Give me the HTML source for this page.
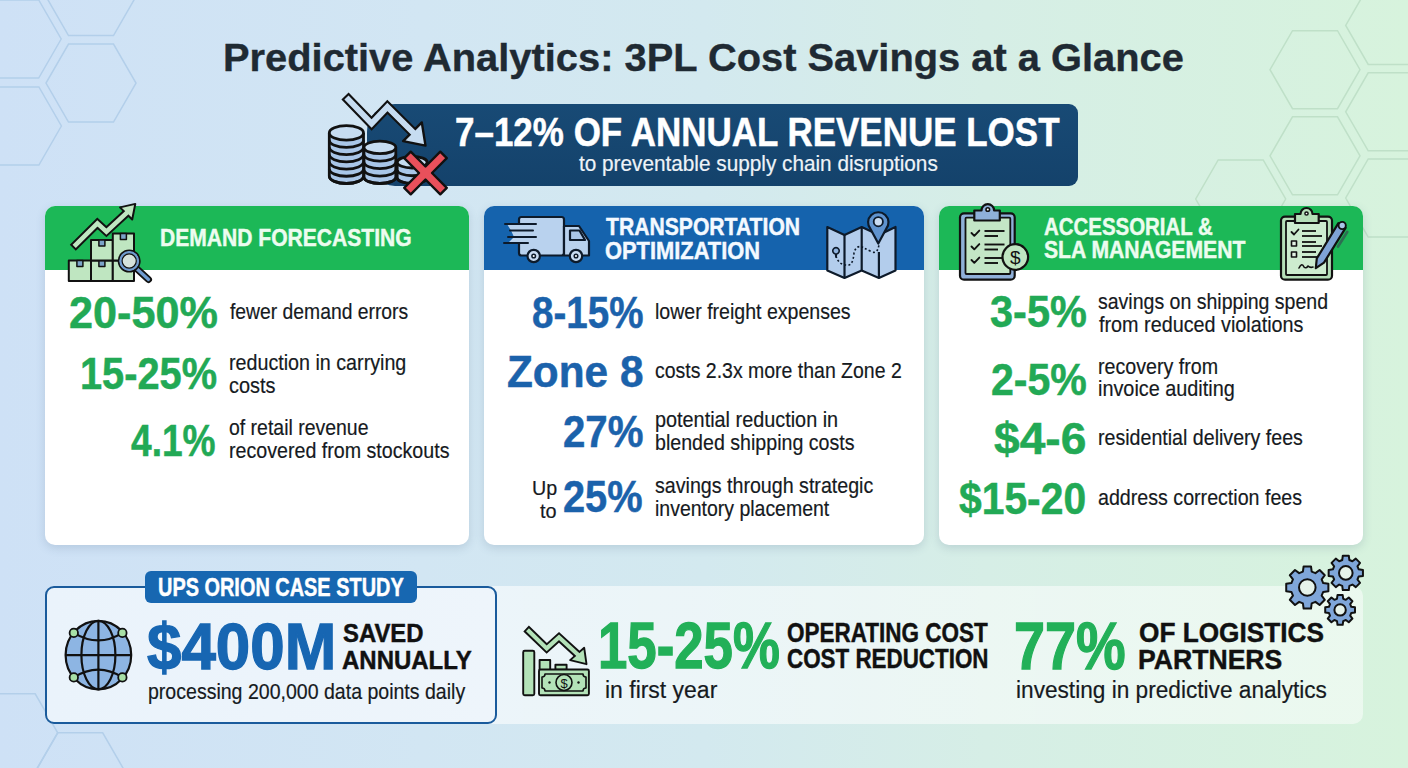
<!DOCTYPE html><html><head><meta charset="utf-8"><title>Predictive Analytics</title><style>

*{margin:0;padding:0;box-sizing:border-box}
html,body{width:1408px;height:768px;overflow:hidden}
body{position:relative;font-family:"Liberation Sans",sans-serif;
 background:linear-gradient(90deg,#cee1f6 0%,#d2e6f3 30%,#d3e9ef 50%,#d6eee6 70%,#d7f3dd 100%);}
.abs{position:absolute;left:0;top:0}
.t{position:absolute;white-space:nowrap;line-height:1;transform-origin:0 0;z-index:10}
.card{position:absolute;top:206px;height:338.5px;background:#fff;border-radius:10px;box-shadow:0 3px 10px rgba(60,90,120,.18);overflow:hidden}
.card .hd{position:absolute;left:0;top:0;right:0;height:64px}
.banner{position:absolute;left:367px;top:103.5px;width:711px;height:82.5px;background:linear-gradient(180deg,#184a75,#14426b);border-radius:28px 9px 9px 28px}
.panel{position:absolute;left:45px;top:586px;width:1318px;height:138px;border-radius:10px;background:linear-gradient(90deg,rgba(255,255,255,.62),rgba(255,255,255,.55) 60%,rgba(255,255,255,.5))}
.ups{position:absolute;left:44.5px;top:585.5px;width:452.5px;height:138.5px;border:2.6px solid #1a5b9c;border-radius:9px;background:linear-gradient(90deg,#eaf3fb,#eef5fb)}
.tab{position:absolute;left:144.5px;top:570.7px;width:272.8px;height:32.5px;background:#1767b1;border-radius:6px}

</style></head><body>
<svg class="abs" width="1408" height="768" viewBox="0 0 1408 768"><g fill="none" stroke="#b3cfea" stroke-width="1.5"><polygon points="61.2,39.0 38.7,78.0 -6.3,78.0 -28.8,39.0 -6.3,0.0 38.7,0.0"/><polygon points="61.4,126.0 38.9,165.0 -6.1,165.0 -28.6,126.0 -6.1,87.0 38.9,87.0"/><polygon points="136.0,-3.5 113.5,35.5 68.5,35.5 46.0,-3.5 68.5,-42.5 113.5,-42.5"/><polygon points="136.0,83.1 113.5,122.1 68.5,122.1 46.0,83.1 68.5,44.1 113.5,44.1"/><polygon points="57.7,732.8 35.2,771.8 -9.8,771.8 -32.3,732.8 -9.8,693.8 35.2,693.8"/><polygon points="125.2,771.8 102.7,810.8 57.7,810.8 35.2,771.8 57.7,732.8 102.7,732.8"/></g><g fill="none" stroke="#bfe0c8" stroke-width="1.5"><polygon points="1360.0,69.7 1337.5,108.7 1292.5,108.7 1270.0,69.7 1292.5,30.7 1337.5,30.7"/><polygon points="1360.0,155.8 1337.5,194.8 1292.5,194.8 1270.0,155.8 1292.5,116.8 1337.5,116.8"/><polygon points="1435.7,25.4 1413.2,64.4 1368.2,64.4 1345.7,25.4 1368.2,-13.6 1413.2,-13.6"/><polygon points="1435.7,111.8 1413.2,150.8 1368.2,150.8 1345.7,111.8 1368.2,72.8 1413.2,72.8"/><polygon points="1435.7,198.0 1413.2,237.0 1368.2,237.0 1345.7,198.0 1368.2,159.0 1413.2,159.0"/><polygon points="1285.7,199.0 1263.2,238.0 1218.2,238.0 1195.7,199.0 1218.2,160.0 1263.2,160.0"/></g></svg>
<div class="banner"></div>
<svg class="abs" width="1408" height="768" viewBox="0 0 1408 768"><defs><linearGradient id="lb" x1="0" y1="0" x2="1" y2="1"><stop offset="0" stop-color="#c9dcf2"/><stop offset="1" stop-color="#9dbde3"/></linearGradient><linearGradient id="lg" x1="0" y1="0" x2="1" y2="1"><stop offset="0" stop-color="#cdeccf"/><stop offset="1" stop-color="#a9dcb0"/></linearGradient></defs><g stroke="#111" stroke-width="2.8" stroke-linejoin="round"><path d="M397.2,162.2 L397.2,177.7 A15,5.8 0 0 0 427.2,177.7 L427.2,162.2" fill="#a9c6e8"/><path d="M397.2,169.95 A15,5.8 0 0 0 427.2,169.95" fill="none"/><path d="M397.2,177.7 A15,5.8 0 0 0 427.2,177.7" fill="none"/><ellipse cx="412.2" cy="162.2" rx="15" ry="5.8" fill="#c6dcf1"/><path d="M364.0,147.4 L364.0,177.2 A15.9,6.3 0 0 0 395.79999999999995,177.2 L395.79999999999995,147.4" fill="#a9c6e8"/><path d="M364.0,154.85 A15.9,6.3 0 0 0 395.79999999999995,154.85" fill="none"/><path d="M364.0,162.3 A15.9,6.3 0 0 0 395.79999999999995,162.3" fill="none"/><path d="M364.0,169.75 A15.9,6.3 0 0 0 395.79999999999995,169.75" fill="none"/><path d="M364.0,177.2 A15.9,6.3 0 0 0 395.79999999999995,177.2" fill="none"/><ellipse cx="379.9" cy="147.4" rx="15.9" ry="6.3" fill="#c6dcf1"/><path d="M329.29999999999995,132.9 L329.29999999999995,176.3 A17.1,7.2 0 0 0 363.5,176.3 L363.5,132.9" fill="#a9c6e8"/><path d="M329.29999999999995,140.13333333333333 A17.1,7.2 0 0 0 363.5,140.13333333333333" fill="none"/><path d="M329.29999999999995,147.36666666666667 A17.1,7.2 0 0 0 363.5,147.36666666666667" fill="none"/><path d="M329.29999999999995,154.60000000000002 A17.1,7.2 0 0 0 363.5,154.60000000000002" fill="none"/><path d="M329.29999999999995,161.83333333333334 A17.1,7.2 0 0 0 363.5,161.83333333333334" fill="none"/><path d="M329.29999999999995,169.06666666666666 A17.1,7.2 0 0 0 363.5,169.06666666666666" fill="none"/><path d="M329.29999999999995,176.3 A17.1,7.2 0 0 0 363.5,176.3" fill="none"/><ellipse cx="346.4" cy="132.9" rx="17.1" ry="7.2" fill="#c6dcf1"/></g><path d="M345.00,96.00 L371.60,123.50 L387.40,107.00 L412.40,131.80" fill="none" stroke="#111" stroke-width="10" stroke-linejoin="miter" stroke-miterlimit="10"/><path d="M425.5,145.6 L403.1,141.1 L421.8,122.4 Z" fill="#c6dcf1" stroke="#111" stroke-width="2.4" stroke-linejoin="round"/><path d="M346.46,97.51 L371.60,123.50 L387.40,107.00 L414.53,133.91" fill="none" stroke="#c6dcf1" stroke-width="5.8" stroke-linejoin="miter" stroke-miterlimit="10"/><g transform="translate(425.5,173) rotate(45)"><path d="M-4.6,-25.5 H4.6 V-4.6 H25.5 V4.6 H4.6 V25.5 H-4.6 V4.6 H-25.5 V-4.6 H-4.6 Z" fill="#e9505b" stroke="#111" stroke-width="2.4" stroke-linejoin="round"/></g></svg>
<div class="card" style="left:45px;width:424px"><div class="hd" style="background:#1cb857"></div></div>
<div class="card" style="left:484px;width:440px"><div class="hd" style="background:#1563ad"></div></div>
<div class="card" style="left:939px;width:424px"><div class="hd" style="background:#1cb857"></div></div>
<div class="panel"></div>
<div class="ups"></div>
<div class="tab"></div>
<svg class="abs" width="1408" height="768" viewBox="0 0 1408 768" style="z-index:5"><g stroke="#111" stroke-width="2" stroke-linejoin="round"><path d="M72.80,247.70 L97.40,223.40 L106.40,231.60 L126.10,213.40" fill="none" stroke="#111" stroke-width="8.5" stroke-linejoin="miter" stroke-miterlimit="10"/><path d="M135.3,203.9 L120,207.4 L132.2,219.5 Z" fill="#bfe6c1" stroke="#111" stroke-width="2" stroke-linejoin="round"/><path d="M74.19,246.33 L97.40,223.40 L106.40,231.60 L128.30,211.36" fill="none" stroke="#bfe6c1" stroke-width="4.6" stroke-linejoin="miter" stroke-miterlimit="10"/><rect x="68.8" y="260.4" width="22.2" height="20.5" fill="#bfe6c1"/><rect x="76.89999999999999" y="260.4" width="6" height="6" fill="#7ba3c9" stroke-width="1.5"/><rect x="91" y="260.4" width="21.8" height="20.5" fill="#bfe6c1"/><rect x="98.9" y="260.4" width="6" height="6" fill="#7ba3c9" stroke-width="1.5"/><rect x="112.8" y="260.4" width="21.2" height="20.5" fill="#bfe6c1"/><rect x="120.39999999999999" y="260.4" width="6" height="6" fill="#7ba3c9" stroke-width="1.5"/><rect x="91" y="239.9" width="21.8" height="20.5" fill="#bfe6c1"/><rect x="98.9" y="239.9" width="6" height="6" fill="#7ba3c9" stroke-width="1.5"/><rect x="112.8" y="233.4" width="21.2" height="27" fill="#bfe6c1"/><rect x="120.39999999999999" y="233.4" width="6" height="6" fill="#7ba3c9" stroke-width="1.5"/><line x1="136.5" y1="268.5" x2="148.5" y2="279.5" stroke="#111" stroke-width="7" stroke-linecap="round"/><line x1="136.5" y1="268.5" x2="148.5" y2="279.5" stroke="#6f9bd0" stroke-width="3.2" stroke-linecap="round"/><circle cx="129.2" cy="261" r="10.5" fill="#d5e2dc" stroke="#111" stroke-width="2"/><circle cx="129.2" cy="261" r="8.6" fill="none" stroke="#6f9bd0" stroke-width="2.6"/><circle cx="129.2" cy="261" r="7.1" fill="none" stroke="#111" stroke-width="1.2"/></g><g stroke="#0d1a2a" stroke-width="2.2" stroke-linejoin="round" fill="#b9d2ee"><rect x="519" y="217" width="45" height="38.5" rx="2.5"/><path d="M564,226 L579,226 L589,241 L589,255.5 L564,255.5 Z"/><path d="M570,230.5 L579.5,230.5 L585,240 L570,240 Z" fill="#a9c6e8"/><circle cx="533.7" cy="256" r="6.2" fill="#c9dcf2"/><circle cx="533.7" cy="256" r="1.8" fill="#fff" stroke-width="1.5"/><circle cx="576" cy="256" r="6.2" fill="#c9dcf2"/><circle cx="576" cy="256" r="1.8" fill="#fff" stroke-width="1.5"/></g><path d="M507,224 L522,224 L522,243 L508,243 L514,237 L511,230.5 Z" fill="#b9d2ee"/><g stroke="#0d1a2a" stroke-width="2" stroke-linecap="round"><line x1="505" y1="224" x2="536" y2="224"/><line x1="510" y1="230.5" x2="533" y2="230.5"/><line x1="508" y1="237" x2="536" y2="237"/><line x1="504" y1="243" x2="528" y2="243"/></g><g stroke="#0d1a2a" stroke-width="2.2" stroke-linejoin="round"><path d="M827.3,227 L844.5,235 L861.7,227 L878.9,235 L895.5,227 L895.5,270.6 L878.9,278 L861.7,270.6 L844.5,278 L827.3,270.6 Z" fill="#b3cdec"/><line x1="844.5" y1="235" x2="844.5" y2="278"/><line x1="861.7" y1="227" x2="861.7" y2="270.6"/><line x1="878.9" y1="252" x2="878.9" y2="278"/><path d="M836,256 Q839,266 849,265 Q853,264 854,253 Q856,245 862,247 Q866,249 872,252 Q878,254 879,244" fill="none" stroke-width="1.6" stroke-dasharray="2 2.2"/><path d="M835.5,254 a3.2,3.2 0 1 1 1,0 l-0.5,3 z" fill="#8fb3de" stroke-width="1.6"/><path d="M878.3,243.5 L870.5,229 A10.2,10.2 0 1 1 886.1,229 Z" fill="#5f93cf"/><circle cx="878.3" cy="221.7" r="4.6" fill="#c9dcf2" stroke-width="1.8"/></g><g stroke="#111" stroke-width="2.2" stroke-linejoin="round"><rect x="960" y="213.3" width="54.7" height="66.4" rx="4" fill="#8fb0d9"/><rect x="965.5" y="217.7" width="44.8" height="56.3" rx="1" fill="#c3e6c6" stroke-width="1.8"/><path d="M981.5,210.5 a6.3,6.3 0 0 1 12.6,0 L999.8,210.5 L999.8,220.5 L974.3,220.5 L974.3,210.5 Z" fill="#8fb0d9"/><circle cx="987.8" cy="209.5" r="1.8" fill="#fff" stroke-width="1.6"/><path d="M971.5,233 l2.8,2.8 l5,-5.2" fill="none" stroke-width="1.9" stroke-linecap="round"/><line x1="984.5" y1="231" x2="1004.5" y2="231" stroke-width="1.9"/><line x1="984.5" y1="236" x2="998" y2="236" stroke-width="1.9"/><path d="M971.5,246.5 l2.8,2.8 l5,-5.2" fill="none" stroke-width="1.9" stroke-linecap="round"/><line x1="984.5" y1="244.5" x2="1004.5" y2="244.5" stroke-width="1.9"/><line x1="984.5" y1="249.5" x2="998" y2="249.5" stroke-width="1.9"/><path d="M971.5,260 l2.8,2.8 l5,-5.2" fill="none" stroke-width="1.9" stroke-linecap="round"/><line x1="984.5" y1="258" x2="1004.5" y2="258" stroke-width="1.9"/><line x1="984.5" y1="263" x2="998" y2="263" stroke-width="1.9"/><circle cx="1015.3" cy="257" r="12.8" fill="#bfe5c2"/></g><text x="1015.3" y="264" text-anchor="middle" font-family="Liberation Sans" font-size="19" fill="#111">$</text><g stroke="#111" stroke-width="2.2" stroke-linejoin="round"><rect x="1281" y="216.6" width="51" height="63.1" rx="4" fill="#b5dfb8"/><rect x="1286" y="221" width="41" height="54" rx="1" fill="#cdeccf" stroke-width="1.8"/><path d="M1300.5,214 a6,6 0 0 1 12,0 L1318.7,214 L1318.7,223 L1295,223 L1295,214 Z" fill="#b5dfb8"/><circle cx="1306.5" cy="213.5" r="1.6" fill="#fff" stroke-width="1.5"/><path d="M1291.5,232 l2.5,2.5 l4.5,-5" fill="none" stroke-width="1.8" stroke-linecap="round"/><rect x="1291.5" y="241" width="5" height="5" fill="#e3f3e4" stroke-width="1.6"/><rect x="1291.5" y="252" width="5" height="5" fill="#e3f3e4" stroke-width="1.6"/><line x1="1302" y1="231" x2="1316" y2="231" stroke-width="1.8"/><line x1="1302" y1="236" x2="1322" y2="236" stroke-width="1.8"/><line x1="1302" y1="242" x2="1316" y2="242" stroke-width="1.8"/><line x1="1302" y1="246" x2="1322" y2="246" stroke-width="1.8"/><line x1="1302" y1="252" x2="1316" y2="252" stroke-width="1.8"/><line x1="1302" y1="257" x2="1322" y2="257" stroke-width="1.8"/><path d="M1299,268 q3,-6 5,-1 q2,2 4,-1 q2,2 5,1" fill="none" stroke-width="1.6" stroke-linecap="round"/><line x1="1347.2" y1="232" x2="1338" y2="246.5" stroke="#2d6e52" stroke-width="2.8" stroke-linecap="round"/><path d="M1338.4,223.2 L1345.6,227.8 L1324,262.6 L1315.8,268.2 L1316.8,258.4 Z" fill="#7fa3d6"/><circle cx="1342.2" cy="225.5" r="3.6" fill="#a9c6e8" stroke-width="1.9"/></g><g stroke="#111" stroke-width="2.2" fill="none"><ellipse cx="98.4" cy="655.1" rx="32.8" ry="34.3" fill="#8db5e3"/><ellipse cx="98.4" cy="655.1" rx="17" ry="34.3"/><line x1="98.4" y1="620.8" x2="98.4" y2="689.4"/><line x1="65.6" y1="655.1" x2="131.2" y2="655.1"/><path d="M73.8,632.9 Q98.4,648 122.4,632.9"/><path d="M73.8,677.4 Q98.4,662 122.4,677.4"/><circle cx="73.8" cy="632.9" r="4.2" fill="#a8e0a6" stroke-width="1.8"/><circle cx="122.4" cy="632.9" r="4.2" fill="#a8e0a6" stroke-width="1.8"/><circle cx="73.8" cy="677.4" r="4.2" fill="#a8e0a6" stroke-width="1.8"/><circle cx="122.4" cy="677.4" r="4.2" fill="#a8e0a6" stroke-width="1.8"/></g><g stroke="#111" stroke-width="1.9" stroke-linejoin="round" fill="#b3e2b8"><path d="M526.10,628.50 L546.70,648.40 L559.00,637.30 L577.20,654.00" fill="none" stroke="#111" stroke-width="8" stroke-linejoin="miter" stroke-miterlimit="10"/><path d="M586.5,664.2 L570.1,660.1 L584.2,647.8 Z" fill="#b3e2b8" stroke="#111" stroke-width="1.9" stroke-linejoin="round"/><path d="M527.47,629.82 L546.70,648.40 L559.00,637.30 L579.41,656.03" fill="none" stroke="#b3e2b8" stroke-width="4.2" stroke-linejoin="miter" stroke-miterlimit="10"/><rect x="523.2" y="650.8" width="11.1" height="44.5" rx="1.5"/><rect x="539.6" y="660" width="10.6" height="10"/><rect x="555.4" y="664.8" width="11.2" height="5"/><rect x="539" y="669.5" width="49.9" height="25.8" rx="1.5"/><path d="M545,674 h38 a3,3 0 0 0 3,3 v11 a3,3 0 0 0 -3,3 h-38 a3,3 0 0 0 -3,-3 v-11 a3,3 0 0 0 3,-3 Z" stroke-width="1.6"/><circle cx="564" cy="682.5" r="8" stroke-width="1.6"/></g><text x="564" y="688" text-anchor="middle" font-family="Liberation Sans" font-size="13" fill="#111">$</text><circle cx="549.5" cy="682.5" r="1.2" fill="#111"/><circle cx="578.5" cy="682.5" r="1.2" fill="#111"/><path d="M1323.20,583.10 L1328.38,583.82 L1328.38,591.18 L1323.20,591.90 L1321.66,595.63 L1324.81,599.81 L1319.61,605.01 L1315.43,601.86 L1311.70,603.40 L1310.98,608.58 L1303.62,608.58 L1302.90,603.40 L1299.17,601.86 L1294.99,605.01 L1289.79,599.81 L1292.94,595.63 L1291.40,591.90 L1286.22,591.18 L1286.22,583.82 L1291.40,583.10 L1292.94,579.37 L1289.79,575.19 L1294.99,569.99 L1299.17,573.14 L1302.90,571.60 L1303.62,566.42 L1310.98,566.42 L1311.70,571.60 L1315.43,573.14 L1319.61,569.99 L1324.81,575.19 L1321.66,579.37 Z" fill="#7fa6d9" stroke="#111" stroke-width="2" stroke-linejoin="round"/><circle cx="1307.3" cy="587.5" r="8.3" fill="#e6f3ea" stroke="#111" stroke-width="2"/><path d="M1358.71,569.33 L1362.94,569.91 L1362.94,575.89 L1358.71,576.47 L1357.46,579.50 L1360.04,582.91 L1355.81,587.14 L1352.40,584.56 L1349.37,585.81 L1348.79,590.04 L1342.81,590.04 L1342.23,585.81 L1339.20,584.56 L1335.79,587.14 L1331.56,582.91 L1334.14,579.50 L1332.89,576.47 L1328.66,575.89 L1328.66,569.91 L1332.89,569.33 L1334.14,566.30 L1331.56,562.89 L1335.79,558.66 L1339.20,561.24 L1342.23,559.99 L1342.81,555.76 L1348.79,555.76 L1349.37,559.99 L1352.40,561.24 L1355.81,558.66 L1360.04,562.89 L1357.46,566.30 Z" fill="#7fa6d9" stroke="#111" stroke-width="2" stroke-linejoin="round"/><circle cx="1345.8" cy="572.9" r="6.8" fill="#e6f3ea" stroke="#111" stroke-width="2"/><path d="M1351.28,606.81 L1354.98,607.30 L1354.98,612.50 L1351.28,612.99 L1350.19,615.62 L1352.45,618.58 L1348.78,622.25 L1345.82,619.99 L1343.19,621.08 L1342.70,624.78 L1337.50,624.78 L1337.01,621.08 L1334.38,619.99 L1331.42,622.25 L1327.75,618.58 L1330.01,615.62 L1328.92,612.99 L1325.22,612.50 L1325.22,607.30 L1328.92,606.81 L1330.01,604.18 L1327.75,601.22 L1331.42,597.55 L1334.38,599.81 L1337.01,598.72 L1337.50,595.02 L1342.70,595.02 L1343.19,598.72 L1345.82,599.81 L1348.78,597.55 L1352.45,601.22 L1350.19,604.18 Z" fill="#7fa6d9" stroke="#111" stroke-width="2" stroke-linejoin="round"/><circle cx="1340.1" cy="609.9" r="5.7" fill="#e6f3ea" stroke="#111" stroke-width="2"/></svg>
<div class="t" style="left:222.92px;top:38.74px;font-size:38.81px;font-weight:700;color:#1f2a33;-webkit-text-stroke:0.35px #1f2a33;transform:scaleX(1.0268)">Predictive Analytics: 3PL Cost Savings at a Glance</div>
<div class="t" style="left:455.27px;top:112.09px;font-size:40.41px;font-weight:700;color:#ffffff;-webkit-text-stroke:0.5px #ffffff;transform:scaleX(0.8657)">7–12% OF ANNUAL REVENUE LOST</div>
<div class="t" style="left:579.40px;top:153.25px;font-size:21.79px;font-weight:400;color:#eef3f8;-webkit-text-stroke:0.2px #eef3f8;transform:scaleX(0.9527)">to preventable supply chain disruptions</div>
<div class="t" style="left:160.31px;top:227.16px;font-size:23.55px;font-weight:700;color:#ecfcef;-webkit-text-stroke:0.45px #ecfcef;transform:scaleX(0.8946)">DEMAND FORECASTING</div>
<div class="t" style="left:605.70px;top:215.09px;font-size:23.98px;font-weight:700;color:#f4f9ff;-webkit-text-stroke:0.45px #f4f9ff;transform:scaleX(0.8817)">TRANSPORTATION</div>
<div class="t" style="left:604.79px;top:239.39px;font-size:23.98px;font-weight:700;color:#f4f9ff;-webkit-text-stroke:0.45px #f4f9ff;transform:scaleX(0.9125)">OPTIMIZATION</div>
<div class="t" style="left:1044.04px;top:215.54px;font-size:23.69px;font-weight:700;color:#ecfcef;-webkit-text-stroke:0.45px #ecfcef;transform:scaleX(0.8629)">ACCESSORIAL &amp;</div>
<div class="t" style="left:1044.01px;top:239.14px;font-size:23.69px;font-weight:700;color:#ecfcef;-webkit-text-stroke:0.45px #ecfcef;transform:scaleX(0.8933)">SLA MANAGEMENT</div>
<div class="t" style="left:68.74px;top:289.79px;font-size:45.13px;font-weight:700;color:#22a955;-webkit-text-stroke:0.5px #22a955;transform:scaleX(0.9575)">20-50%</div>
<div class="t" style="left:80.16px;top:353.42px;font-size:43.55px;font-weight:700;color:#22a955;-webkit-text-stroke:0.5px #22a955;transform:scaleX(0.9130)">15-25%</div>
<div class="t" style="left:131.28px;top:417.61px;font-size:44.99px;font-weight:700;color:#22a955;-webkit-text-stroke:0.5px #22a955;transform:scaleX(0.8248)">4.1%</div>
<div class="t" style="left:229.90px;top:300.68px;font-size:22.34px;font-weight:400;color:#161a1e;-webkit-text-stroke:0.2px #161a1e;transform:scaleX(0.8649)">fewer demand errors</div>
<div class="t" style="left:229.02px;top:351.88px;font-size:22.34px;font-weight:400;color:#161a1e;-webkit-text-stroke:0.2px #161a1e;transform:scaleX(0.8819)">reduction in carrying</div>
<div class="t" style="left:229.01px;top:374.88px;font-size:22.34px;font-weight:400;color:#161a1e;-webkit-text-stroke:0.2px #161a1e;transform:scaleX(0.8922)">costs</div>
<div class="t" style="left:229.03px;top:417.38px;font-size:22.34px;font-weight:400;color:#161a1e;-webkit-text-stroke:0.2px #161a1e;transform:scaleX(0.8709)">of retail revenue</div>
<div class="t" style="left:229.02px;top:440.18px;font-size:22.34px;font-weight:400;color:#161a1e;-webkit-text-stroke:0.2px #161a1e;transform:scaleX(0.8795)">recovered from stockouts</div>
<div class="t" style="left:531.85px;top:289.67px;font-size:45.27px;font-weight:700;color:#1b62ab;-webkit-text-stroke:0.5px #1b62ab;transform:scaleX(0.8519)">8-15%</div>
<div class="t" style="left:506.93px;top:350.10px;font-size:43.70px;font-weight:700;color:#1b62ab;-webkit-text-stroke:0.5px #1b62ab;transform:scaleX(0.9691)">Zone 8</div>
<div class="t" style="left:562.80px;top:409.97px;font-size:44.56px;font-weight:700;color:#1b62ab;-webkit-text-stroke:0.5px #1b62ab;transform:scaleX(0.9023)">27%</div>
<div class="t" style="left:563.40px;top:475.40px;font-size:44.41px;font-weight:700;color:#1b62ab;-webkit-text-stroke:0.5px #1b62ab;transform:scaleX(0.8954)">25%</div>
<div class="t" style="left:531.63px;top:476.66px;font-size:21.08px;font-weight:400;color:#161a1e;-webkit-text-stroke:0.2px #161a1e;transform:scaleX(0.9333)">Up</div>
<div class="t" style="left:539.50px;top:499.56px;font-size:21.08px;font-weight:400;color:#161a1e;-webkit-text-stroke:0.2px #161a1e;transform:scaleX(0.9412)">to</div>
<div class="t" style="left:654.72px;top:301.28px;font-size:22.34px;font-weight:400;color:#161a1e;-webkit-text-stroke:0.2px #161a1e;transform:scaleX(0.8757)">lower freight expenses</div>
<div class="t" style="left:654.73px;top:360.38px;font-size:22.34px;font-weight:400;color:#161a1e;-webkit-text-stroke:0.2px #161a1e;transform:scaleX(0.8719)">costs 2.3x more than Zone 2</div>
<div class="t" style="left:655.31px;top:409.18px;font-size:22.34px;font-weight:400;color:#161a1e;-webkit-text-stroke:0.2px #161a1e;transform:scaleX(0.8887)">potential reduction in</div>
<div class="t" style="left:655.32px;top:432.18px;font-size:22.34px;font-weight:400;color:#161a1e;-webkit-text-stroke:0.2px #161a1e;transform:scaleX(0.8783)">blended shipping costs</div>
<div class="t" style="left:655.32px;top:474.78px;font-size:22.34px;font-weight:400;color:#161a1e;-webkit-text-stroke:0.2px #161a1e;transform:scaleX(0.8794)">savings through strategic</div>
<div class="t" style="left:655.33px;top:497.58px;font-size:22.34px;font-weight:400;color:#161a1e;-webkit-text-stroke:0.2px #161a1e;transform:scaleX(0.8719)">inventory placement</div>
<div class="t" style="left:989.67px;top:290.23px;font-size:44.84px;font-weight:700;color:#22a955;-webkit-text-stroke:0.5px #22a955;transform:scaleX(0.9252)">3-5%</div>
<div class="t" style="left:991.29px;top:356.69px;font-size:45.13px;font-weight:700;color:#22a955;-webkit-text-stroke:0.5px #22a955;transform:scaleX(0.9097)">2-5%</div>
<div class="t" style="left:994.24px;top:417.20px;font-size:43.70px;font-weight:700;color:#22a955;-webkit-text-stroke:0.5px #22a955;transform:scaleX(1.0553)">$4-6</div>
<div class="t" style="left:959.08px;top:476.90px;font-size:44.41px;font-weight:700;color:#22a955;-webkit-text-stroke:0.5px #22a955;transform:scaleX(0.9191)">$15-20</div>
<div class="t" style="left:1097.88px;top:290.98px;font-size:22.34px;font-weight:400;color:#161a1e;-webkit-text-stroke:0.2px #161a1e;transform:scaleX(0.8741)">savings on shipping spend</div>
<div class="t" style="left:1098.75px;top:313.83px;font-size:22.34px;font-weight:400;color:#161a1e;-webkit-text-stroke:0.2px #161a1e;transform:scaleX(0.8859)">from reduced violations</div>
<div class="t" style="left:1097.87px;top:355.68px;font-size:22.34px;font-weight:400;color:#161a1e;-webkit-text-stroke:0.2px #161a1e;transform:scaleX(0.8795)">recovery from</div>
<div class="t" style="left:1097.86px;top:378.48px;font-size:22.34px;font-weight:400;color:#161a1e;-webkit-text-stroke:0.2px #161a1e;transform:scaleX(0.8882)">invoice auditing</div>
<div class="t" style="left:1097.87px;top:426.98px;font-size:22.34px;font-weight:400;color:#161a1e;-webkit-text-stroke:0.2px #161a1e;transform:scaleX(0.8782)">residential delivery fees</div>
<div class="t" style="left:1097.87px;top:487.28px;font-size:22.34px;font-weight:400;color:#161a1e;-webkit-text-stroke:0.2px #161a1e;transform:scaleX(0.8794)">address correction fees</div>
<div class="t" style="left:157.80px;top:574.73px;font-size:25.00px;font-weight:700;color:#ffffff;-webkit-text-stroke:0.45px #ffffff;transform:scaleX(0.7967)">UPS ORION CASE STUDY</div>
<div class="t" style="left:146.74px;top:614.61px;font-size:64.47px;font-weight:700;color:#1766b2;-webkit-text-stroke:1.3px #1766b2;transform:scaleX(0.9599)">$400M</div>
<div class="t" style="left:343.08px;top:621.19px;font-size:25.87px;font-weight:700;color:#111111;-webkit-text-stroke:0.45px #111111;transform:scaleX(0.9235)">SAVED</div>
<div class="t" style="left:341.87px;top:647.79px;font-size:25.87px;font-weight:700;color:#111111;-webkit-text-stroke:0.45px #111111;transform:scaleX(0.9275)">ANNUALLY</div>
<div class="t" style="left:147.63px;top:680.56px;font-size:22.49px;font-weight:400;color:#161a1e;-webkit-text-stroke:0.2px #161a1e;transform:scaleX(0.8690)">processing 200,000 data points daily</div>
<div class="t" style="left:597.83px;top:613.61px;font-size:64.47px;font-weight:700;color:#22b058;-webkit-text-stroke:1.3px #22b058;transform:scaleX(0.8181)">15-25%</div>
<div class="t" style="left:787.19px;top:619.12px;font-size:27.62px;font-weight:700;color:#111111;-webkit-text-stroke:0.45px #111111;transform:scaleX(0.8143)">OPERATING COST</div>
<div class="t" style="left:787.19px;top:645.32px;font-size:27.62px;font-weight:700;color:#111111;-webkit-text-stroke:0.45px #111111;transform:scaleX(0.8110)">COST REDUCTION</div>
<div class="t" style="left:605.02px;top:679.05px;font-size:23.45px;font-weight:400;color:#161a1e;-webkit-text-stroke:0.2px #161a1e;transform:scaleX(0.9796)">in first year</div>
<div class="t" style="left:1014.09px;top:613.47px;font-size:66.76px;font-weight:700;color:#22b058;-webkit-text-stroke:1.3px #22b058;transform:scaleX(0.8364)">77%</div>
<div class="t" style="left:1139.27px;top:619.35px;font-size:28.05px;font-weight:700;color:#111111;-webkit-text-stroke:0.45px #111111;transform:scaleX(0.9342)">OF LOGISTICS</div>
<div class="t" style="left:1138.30px;top:645.95px;font-size:28.05px;font-weight:700;color:#111111;-webkit-text-stroke:0.45px #111111;transform:scaleX(0.9483)">PARTNERS</div>
<div class="t" style="left:1016.03px;top:678.55px;font-size:23.45px;font-weight:400;color:#161a1e;-webkit-text-stroke:0.2px #161a1e;transform:scaleX(0.9663)">investing in predictive analytics</div>
</body></html>
